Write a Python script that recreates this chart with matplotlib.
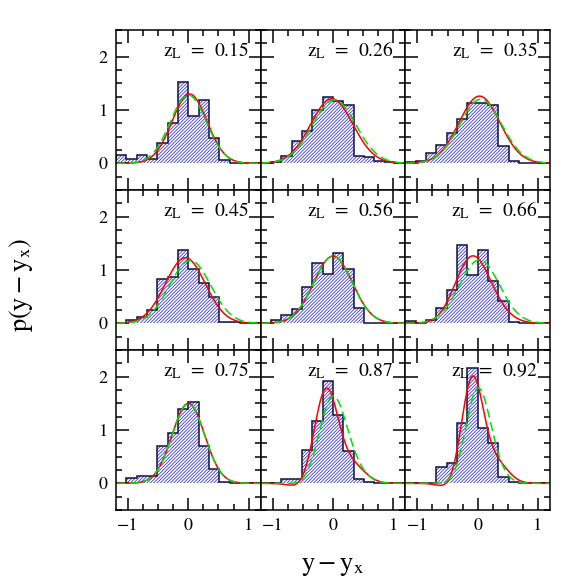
import numpy as np
import matplotlib
matplotlib.use("Agg")
import matplotlib.pyplot as plt
from matplotlib.ticker import MultipleLocator

plt.rcParams['font.family'] = 'STIXGeneral'
plt.rcParams['mathtext.fontset'] = 'stix'
plt.rcParams['hatch.linewidth'] = 0.55

# lens redshift per panel
z_lens = ['0.15', '0.26', '0.35', '0.45', '0.56', '0.66', '0.75', '0.87', '0.92']

# histogram: 14 bins between -1.2 and 1.2
bin_edges = np.linspace(-1.2, 1.2, 15)
hist_015 = [0.156, 0.08, 0.156, 0.08, 0.39, 0.75, 1.52, 0.89, 1.19, 0.475, 0.06, 0.0, 0.0, 0.0]
hist_026 = [0.0, 0.03, 0.14, 0.425, 0.61, 1.0, 1.24, 1.17, 1.1, 0.14, 0.11, 0.05, 0.03, 0.0]
hist_035 = [0.03, 0.05, 0.2, 0.35, 0.56, 0.84, 1.13, 1.13, 1.1, 0.33, 0.04, 0.01, 0.0, 0.0]
hist_045 = [0.0, 0.06, 0.125, 0.25, 0.83, 0.86, 1.38, 1.01, 0.76, 0.5, 0.03, 0.03, 0.01, 0.0]
hist_056 = [0.0, 0.06, 0.16, 0.275, 0.69, 1.125, 0.925, 1.31, 1.02, 0.29, 0.0, 0.0, 0.0, 0.0]
hist_066 = [0.05, 0.0, 0.06, 0.29, 0.625, 1.46, 0.91, 1.375, 0.8, 0.425, 0.02, 0.0, 0.0, 0.0]
hist_075 = [0.0, 0.1, 0.14, 0.14, 0.7, 0.95, 1.39, 1.52, 0.7, 0.26, 0.02, 0.0, 0.0, 0.0]
hist_087 = [0.0, 0.0, 0.09, 0.09, 0.625, 1.16, 1.91, 1.29, 0.61, 0.09, 0.03, 0.0, 0.0, 0.0]
hist_092 = [0.0, 0.0, 0.0, 0.3, 0.39, 1.13, 2.16, 1.04, 0.76, 0.11, 0.03, 0.0, 0.0, 0.0]
hists = [hist_015, hist_026, hist_035, hist_045, hist_056,
         hist_066, hist_075, hist_087, hist_092]

# model curves: (amplitude, centre, width, skewness term)
red_fit = [(1.30, 0.02, 0.29, 0.0), (1.21, -0.02, 0.35, 0.0), (1.26, 0.03, 0.34, 0.0),
           (1.23, -0.05, 0.33, 0.0), (1.26, 0.0, 0.32, 0.0), (1.26, -0.05, 0.30, 0.03),
           (1.50, 0.0, 0.27, 0.0), (1.65, -0.02, 0.24, 0.15), (1.86, 0.0, 0.22, 0.15)]
green_fit = [(1.28, 0.0, 0.30, 0.0), (1.19, 0.02, 0.36, 0.0), (1.20, 0.05, 0.35, 0.0),
             (1.18, 0.03, 0.34, 0.0), (1.26, 0.0, 0.32, 0.0), (1.19, 0.03, 0.33, 0.0),
             (1.49, 0.0, 0.27, 0.0), (1.62, 0.04, 0.24, 0.05), (1.78, 0.03, 0.21, 0.03)]


def model(x, amp, mu, sig, h3):
    t = (x - mu) / sig
    return amp * np.exp(-0.5 * t**2) * (1 + h3 * (t**3 - 3 * t))


fig, axes = plt.subplots(3, 3, figsize=(5.81, 5.81), dpi=100, sharex=True, sharey=True)
fig.subplots_adjust(left=0.1997, right=0.9466, bottom=0.1222, top=0.9484,
                    wspace=0, hspace=0)

xx = np.linspace(-1.2, 1.2, 400)
for i, ax in enumerate(axes.flat):
    h = np.array(hists[i])
    ax.bar(bin_edges[:-1], h, width=np.diff(bin_edges), align='edge',
           color='none', edgecolor='#2a2af0', linewidth=0, hatch='//////////')
    ax.stairs(h, bin_edges, color='#101040', linewidth=1.1)
    ax.plot(xx, model(xx, *red_fit[i]), color='red', lw=1.1)
    ax.plot(xx, model(xx, *green_fit[i]), color='#00e000', lw=1.1, ls=(0, (6, 3)))
    ax.text(1.0, 2.0, r'$\mathrm{z_L}$  =  ' + z_lens[i], ha='right', va='baseline',
            fontsize=14)

    ax.set_xlim(-1.2, 1.2)
    ax.set_ylim(-0.5, 2.5)
    ax.xaxis.set_major_locator(MultipleLocator(1))
    ax.xaxis.set_minor_locator(MultipleLocator(0.25))
    ax.yaxis.set_major_locator(MultipleLocator(1))
    ax.yaxis.set_minor_locator(MultipleLocator(0.25))
    ax.tick_params(which='both', direction='in', top=True, right=True, width=1.1,
                   labelsize=13, pad=6)
    ax.tick_params(which='major', length=9)
    ax.tick_params(which='minor', length=4.5)
    for s in ax.spines.values():
        s.set_linewidth(1.1)

fig.text(0.036, 0.51, r'$\mathrm{p(y-y_x)}$', rotation=90, ha='center', va='center',
         fontsize=19)
fig.text(0.573, 0.025, r'$\mathrm{y-y_x}$', ha='center', va='center', fontsize=19)

fig.savefig('out.png', dpi=100)
